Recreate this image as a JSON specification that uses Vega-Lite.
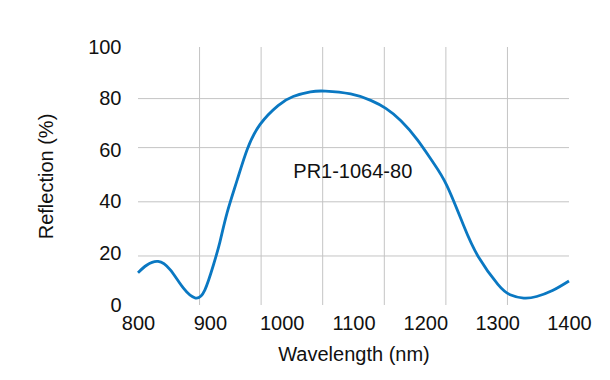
{
  "$schema": "https://vega.github.io/schema/vega-lite/v6.json",
  "width": 431,
  "height": 258,
  "autosize": {"type": "none"},
  "padding": {"left": 138, "top": 47, "right": 41, "bottom": 75},
  "background": "white",
  "config": {
    "view": {"stroke": null},
    "font": "Liberation Sans",
    "axis": {"labelFont": "Liberation Sans", "titleFont": "Liberation Sans", "labelColor": "#111111", "titleColor": "#111111", "titleFontWeight": "normal"}
  },
  "datasets": {
    "curve": [
      {"wl": 800, "r": 12.5},
      {"wl": 812, "r": 15.4},
      {"wl": 828, "r": 16.9},
      {"wl": 845, "r": 13.6},
      {"wl": 863, "r": 6.6},
      {"wl": 880, "r": 2.7},
      {"wl": 893, "r": 5.8},
      {"wl": 905, "r": 15.5},
      {"wl": 914, "r": 24.4},
      {"wl": 924, "r": 35.7},
      {"wl": 938, "r": 48.4},
      {"wl": 952, "r": 60.3},
      {"wl": 970, "r": 70.0},
      {"wl": 995, "r": 77.3},
      {"wl": 1016, "r": 80.8},
      {"wl": 1040, "r": 82.6},
      {"wl": 1061, "r": 82.9},
      {"wl": 1096, "r": 81.8},
      {"wl": 1124, "r": 79.3},
      {"wl": 1145, "r": 76.2},
      {"wl": 1166, "r": 71.4},
      {"wl": 1189, "r": 64.0},
      {"wl": 1210, "r": 55.6},
      {"wl": 1230, "r": 46.3},
      {"wl": 1253, "r": 31.0},
      {"wl": 1274, "r": 18.6},
      {"wl": 1301, "r": 8.0},
      {"wl": 1318, "r": 4.0},
      {"wl": 1337, "r": 2.7},
      {"wl": 1355, "r": 3.3},
      {"wl": 1377, "r": 5.6},
      {"wl": 1400, "r": 9.3}
    ],
    "vgrid": [
      {"wl": 885.7}, {"wl": 971.4}, {"wl": 1057.1}, {"wl": 1142.9}, {"wl": 1228.6}, {"wl": 1314.3}
    ],
    "hgrid": [
      {"r": 19}, {"r": 40}, {"r": 61}, {"r": 80}
    ],
    "label": [
      {"wl": 1099, "r": 51.5, "text": "PR1-1064-80"}
    ]
  },
  "layer": [
    {
      "data": {"name": "vgrid"},
      "mark": {"type": "rule", "color": "#c4c4c4", "strokeWidth": 1},
      "encoding": {
        "x": {"field": "wl", "type": "quantitative", "scale": {"domain": [800, 1400], "nice": false, "zero": false}}
      }
    },
    {
      "data": {"name": "hgrid"},
      "mark": {"type": "rule", "color": "#c4c4c4", "strokeWidth": 1},
      "encoding": {
        "y": {"field": "r", "type": "quantitative", "scale": {"domain": [0, 100], "nice": false}}
      }
    },
    {
      "data": {"name": "curve"},
      "mark": {"type": "line", "color": "#0a78c2", "strokeWidth": 2.8, "interpolate": "natural"},
      "encoding": {
        "x": {
          "field": "wl", "type": "quantitative",
          "scale": {"domain": [800, 1400], "nice": false, "zero": false},
          "axis": {"values": [800, 900, 1000, 1100, 1200, 1300, 1400], "format": "d", "grid": false, "domain": false, "ticks": false, "labelPadding": 8, "labelFontSize": 20, "title": "Wavelength (nm)", "titleFontSize": 20, "titlePadding": 11, "labelFlush": false}
        },
        "y": {
          "field": "r", "type": "quantitative",
          "scale": {"domain": [0, 100], "nice": false},
          "axis": {"values": [0, 20, 40, 60, 80, 100], "format": "d", "grid": false, "domain": false, "ticks": false, "labelPadding": 17, "labelFontSize": 20, "title": "Reflection (%)", "titleFontSize": 20, "titlePadding": 31, "labelFlush": false}
        }
      }
    },
    {
      "data": {"name": "label"},
      "mark": {"type": "text", "fontSize": 20, "font": "Liberation Sans", "color": "#111111"},
      "encoding": {
        "x": {"field": "wl", "type": "quantitative"},
        "y": {"field": "r", "type": "quantitative"},
        "text": {"field": "text"}
      }
    }
  ]
}
